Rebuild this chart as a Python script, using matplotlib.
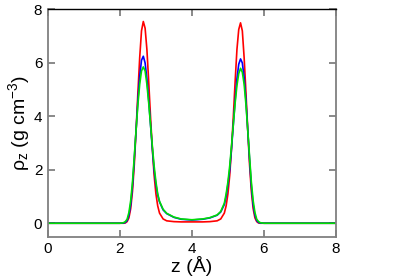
import matplotlib
matplotlib.use('Agg')
import matplotlib.pyplot as plt

plt.rcParams['font.family'] = ['Liberation Sans', 'DejaVu Sans']
plt.rcParams['mathtext.fontset'] = 'custom'
plt.rcParams['mathtext.rm'] = 'Liberation Sans'
plt.rcParams['mathtext.it'] = 'Liberation Sans'

# z positions (Angstrom), shared by all three profiles
z = [0.0, 2.0, 2.10, 2.15, 2.20, 2.25, 2.30, 2.35, 2.40, 2.45, 2.50, 2.55,
     2.60, 2.65, 2.70, 2.75, 2.80, 2.85, 2.90, 2.95, 3.00, 3.05, 3.10, 3.20,
     3.30, 3.50, 3.70, 4.00, 4.30, 4.50, 4.70, 4.80, 4.90, 4.95, 5.00, 5.05,
     5.10, 5.15, 5.20, 5.25, 5.30, 5.35, 5.40, 5.45, 5.50, 5.55, 5.60, 5.65,
     5.70, 5.75, 5.80, 5.85, 5.90, 6.0, 8.0]

rho_red = [0, 0, 0, 0.01, 0.06, 0.2, 0.55, 1.2, 2.2, 3.5, 4.9, 6.2,
           7.2, 7.55, 7.3, 6.5, 5.3, 4.0, 2.8, 1.8, 1.1, 0.65, 0.38, 0.16,
           0.09, 0.06, 0.05, 0.05, 0.05, 0.06, 0.09, 0.16, 0.38, 0.65, 1.1, 1.8,
           2.8, 4.0, 5.3, 6.5, 7.25, 7.5, 7.2, 6.2, 4.9, 3.5, 2.2, 1.2,
           0.55, 0.2, 0.06, 0.01, 0, 0, 0]

rho_blue = [0, 0, 0.01, 0.03, 0.1, 0.3, 0.7, 1.4, 2.4, 3.5, 4.6, 5.5,
            6.1, 6.25, 6.0, 5.4, 4.6, 3.7, 2.8, 2.0, 1.45, 1.05, 0.8, 0.5,
            0.36, 0.22, 0.15, 0.12, 0.15, 0.2, 0.3, 0.42, 0.7, 1.0, 1.45, 2.0,
            2.8, 3.7, 4.6, 5.4, 5.95, 6.15, 6.0, 5.45, 4.6, 3.5, 2.4, 1.4,
            0.7, 0.3, 0.1, 0.03, 0.01, 0, 0]

rho_green = [0, 0, 0.02, 0.06, 0.15, 0.4, 0.85, 1.55, 2.5, 3.5, 4.45, 5.2,
             5.7, 5.85, 5.7, 5.2, 4.5, 3.7, 2.9, 2.15, 1.55, 1.1, 0.82, 0.52,
             0.37, 0.23, 0.16, 0.13, 0.16, 0.21, 0.31, 0.44, 0.75, 1.1, 1.55, 2.15,
             2.9, 3.7, 4.5, 5.15, 5.6, 5.8, 5.65, 5.2, 4.45, 3.5, 2.5, 1.55,
             0.85, 0.4, 0.15, 0.06, 0.02, 0, 0]

fig = plt.figure(figsize=(3.99, 2.79), dpi=100)
ax = fig.add_axes([0.12, 0.152, 0.722, 0.814])

ax.plot(z, rho_red, color='#ff0000', lw=1.2)
ax.plot(z, rho_blue, color='#0000ff', lw=1.2)
ax.plot(z, rho_green, color='#00e000', lw=1.2)

ax.set_xlim(0, 8)
ax.set_ylim(-0.5, 8)
ax.set_xticks([0, 2, 4, 6, 8])
ax.set_yticks([0, 2, 4, 6, 8])

grey = '#808080'
for s in ['left', 'bottom', 'right']:
  ax.spines[s].set_color(grey)
  ax.spines[s].set_linewidth(1.3)
ax.spines['top'].set_color('black')
ax.spines['top'].set_linewidth(1.0)
ax.tick_params(direction='in', length=5, width=1.3, color=grey,
               top=True, right=True, labelsize=11, pad=4)

ax.set_xlabel('z (Å)', fontsize=14, labelpad=0)
ax.set_ylabel(r'$\rho_\mathrm{z}$ (g cm$^{-3}$)', fontsize=14, labelpad=1)

fig.savefig('out.png', dpi=100)
